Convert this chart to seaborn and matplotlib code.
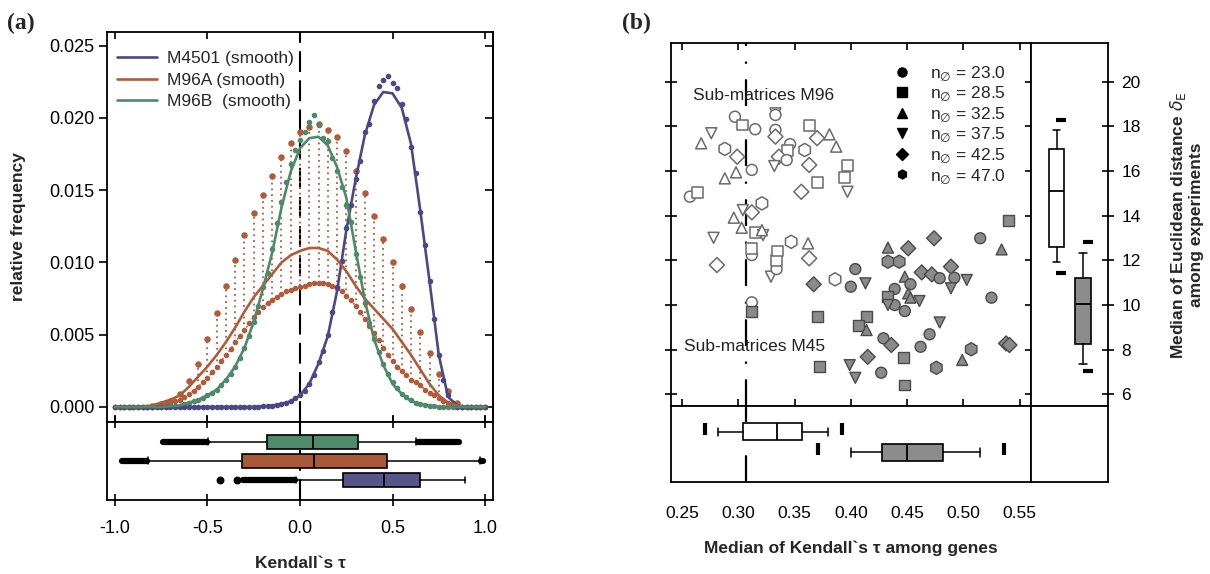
import numpy as np
import pandas as pd
import matplotlib
matplotlib.use("Agg")
import matplotlib.pyplot as plt
from matplotlib.lines import Line2D
from matplotlib.ticker import FormatStrFormatter
import seaborn as sns

# ---------------- Panel (a): distributions of Kendall's tau ----------------
tau_smooth = np.round(np.linspace(-1.0, 1.0, 41), 3)   # 0.05 grid
tau_raw = np.round(np.linspace(-1.0, 1.0, 81), 4)      # 0.025 grid

m4501_smooth = [0.0] * 16 + [
    0.00005, 0.0001, 0.0002, 0.0004, 0.0008, 0.0016, 0.0030, 0.0049, 0.0080, 0.0122, 0.0157,
    0.0188, 0.0209, 0.0218, 0.0217, 0.0207, 0.0182, 0.0136, 0.0087, 0.0036, 0.0007, 0.0001] + [0.0] * 3
m96a_smooth = [0.0] * 4 + [
    0.0001, 0.0003, 0.0005, 0.0008, 0.0014, 0.0021, 0.0028, 0.0036, 0.0045, 0.0055, 0.0066, 0.0076,
    0.0084, 0.0092, 0.0100, 0.0105, 0.0108, 0.0110, 0.0110, 0.0108, 0.0102, 0.0094, 0.0084, 0.0075,
    0.0068, 0.0061, 0.0054, 0.0045, 0.0036, 0.0026, 0.0016, 0.0008, 0.0003, 0.0001] + [0.0] * 3
m96b_smooth = [0.0] * 6 + [
    0.00005, 0.0001, 0.0003, 0.0005, 0.0008, 0.0012, 0.0019, 0.0028, 0.0041, 0.0059, 0.0082, 0.0107,
    0.0138, 0.0163, 0.0179, 0.0186, 0.0187, 0.0181, 0.0166, 0.0145, 0.0109, 0.0074, 0.0047, 0.0029,
    0.0016, 0.0009, 0.0004, 0.0002, 0.0001] + [0.0] * 6

m4501_raw = [0.0] * 31 + [
    0.00003, 0.00005, 0.00007, 0.0001, 0.00015, 0.0002, 0.0003, 0.0004, 0.0006, 0.0008, 0.0011,
    0.0016, 0.0022, 0.0031, 0.0039, 0.0050, 0.0066, 0.0083, 0.0101, 0.0124, 0.0140, 0.0158, 0.0170,
    0.0190, 0.0196, 0.0212, 0.0222, 0.0226, 0.0229, 0.0224, 0.0221, 0.0210, 0.0199, 0.0180, 0.0162,
    0.0135, 0.0112, 0.0087, 0.0061, 0.0036, 0.0019, 0.0008, 0.0002] + [0.0] * 7
m96b_raw = [0.0] * 11 + [
    0.00003, 0.00005, 0.00008, 0.0001, 0.0002, 0.0003, 0.0004, 0.0005, 0.0006, 0.0008, 0.0010, 0.0012,
    0.0015, 0.0019, 0.0023, 0.0028, 0.0034, 0.0041, 0.0049, 0.0059, 0.0070, 0.0083, 0.0093, 0.0109,
    0.0127, 0.0142, 0.0156, 0.0168, 0.0178, 0.0185, 0.0190, 0.0197, 0.0202, 0.0195, 0.0186, 0.0184,
    0.0172, 0.0163, 0.0152, 0.0140, 0.0128, 0.0106, 0.0090, 0.0072, 0.0058, 0.0047, 0.0038, 0.0030,
    0.0023, 0.0017, 0.0013, 0.0009, 0.0007, 0.0005, 0.0003, 0.0002, 0.00015, 0.0001, 0.00005] + [0.0] * 11
m96a_raw_low = [0.0] * 9 + [
    0.00005, 0.0001, 0.0002, 0.0003, 0.0004, 0.0005, 0.0007, 0.0009, 0.0011, 0.0014, 0.0017, 0.0020,
    0.0024, 0.0028, 0.0032, 0.0036, 0.0040, 0.0045, 0.0049, 0.0053, 0.0058, 0.0062, 0.0066, 0.0069,
    0.0072, 0.0074, 0.0076, 0.0078, 0.0080, 0.0081, 0.0082, 0.0083, 0.0084, 0.0085, 0.0086, 0.0086,
    0.0086, 0.0085, 0.0084, 0.0082, 0.0080, 0.0077, 0.0074, 0.0070, 0.0066, 0.0061, 0.0056, 0.0051,
    0.0046, 0.0041, 0.0036, 0.0032, 0.0028, 0.0025, 0.0022, 0.0019, 0.0017, 0.0015, 0.0012, 0.0010,
    0.0008, 0.0006, 0.0004, 0.0003, 0.0001, 0.00005] + [0.0] * 6
m96a_raw_spike = [0.0] * 4 + [
    0.0001, 0.0002, 0.0004, 0.0009, 0.0018, 0.0030, 0.0047, 0.0065, 0.0084, 0.0102, 0.0119, 0.0134,
    0.0147, 0.0160, 0.0173, 0.0183, 0.0190, 0.0194, 0.0196, 0.0192, 0.0187, 0.0177, 0.0163, 0.0148,
    0.0132, 0.0116, 0.0100, 0.0084, 0.0068, 0.0052, 0.0037, 0.0023, 0.0011, 0.0003] + [0.0] * 3

series_names = ["M4501 (smooth)", "M96A (smooth)", "M96B  (smooth)"]
col_purple, col_orange, col_green = "#4a4886", "#b05c3b", "#4d8a69"

# box statistics (rows: M96B, M96A, M4501)
box_a_whislo = [-0.495, -0.823, -0.02]
box_a_q1 = [-0.18, -0.315, 0.234]
box_a_med = [0.072, 0.077, 0.454]
box_a_q3 = [0.312, 0.468, 0.649]
box_a_whishi = [0.627, 0.973, 0.892]
box_a_band_low = [(-0.739, -0.505), (-0.964, -0.828), (-0.31, -0.025)]
box_a_band_high = [(0.635, 0.861), (0.976, 0.99), None]
box_a_fliers = [[], [], [-0.432, -0.339]]
box_a_colors = ["#4f8a6a", "#a9583a", "#565489"]

# ---------------- Panel (b): medians of sub-matrices ----------------
n_levels = [23.0, 28.5, 32.5, 37.5, 42.5, 47.0]
n_markers = {23.0: "o", 28.5: "s", 32.5: "^", 37.5: "v", 42.5: "D", 47.0: "h"}
n_sizes = {23.0: 62, 28.5: 62, 32.5: 62, 37.5: 62, 42.5: 58, 47.0: 90}

m96_tau = [0.297, 0.304, 0.315, 0.333, 0.333, 0.333, 0.333, 0.363, 0.370, 0.276, 0.267, 0.288, 0.299,
           0.346, 0.344, 0.336, 0.359, 0.343, 0.332, 0.363, 0.370, 0.356, 0.288, 0.298, 0.312, 0.257,
           0.264, 0.321, 0.296, 0.304, 0.312, 0.303, 0.315, 0.322, 0.278, 0.347, 0.362, 0.381, 0.387,
           0.397, 0.394, 0.397, 0.281, 0.329, 0.334, 0.334, 0.335, 0.312, 0.312, 0.363, 0.312, 0.386,
           0.321]
m96_dist = [18.43, 18.06, 17.87, 18.58, 18.51, 17.84, 17.54, 18.03, 17.47, 17.69, 17.24, 16.99, 16.64,
            17.20, 16.90, 16.64, 16.94, 16.49, 16.22, 16.27, 15.49, 15.07, 15.67, 15.94, 16.05, 14.85,
            15.03, 14.55, 13.91, 14.25, 14.15, 13.46, 13.24, 13.13, 13.01, 12.83, 12.76, 17.64, 17.09,
            16.24, 15.70, 15.07, 11.79, 11.27, 11.61, 12.01, 12.42, 12.24, 12.54, 12.09, 10.12, 11.15,
            13.35]
m96_n = [23.0, 28.5, 23.0, 37.5, 23.0, 23.0, 42.5, 28.5, 42.5, 37.5, 32.5, 47.0, 42.5,
         23.0, 28.5, 42.5, 47.0, 23.0, 37.5, 42.5, 28.5, 42.5, 32.5, 32.5, 23.0, 23.0,
         28.5, 47.0, 32.5, 37.5, 42.5, 32.5, 28.5, 37.5, 37.5, 47.0, 32.5, 32.5, 32.5,
         28.5, 28.5, 37.5, 42.5, 37.5, 23.0, 28.5, 28.5, 23.0, 28.5, 42.5, 23.0, 47.0,
         32.5]

m45_tau = [0.312, 0.367, 0.370, 0.372, 0.433, 0.451, 0.433, 0.443, 0.474, 0.515, 0.404, 0.400, 0.413,
           0.448, 0.453, 0.463, 0.472, 0.479, 0.489, 0.492, 0.503, 0.489, 0.439, 0.451, 0.433, 0.439,
           0.433, 0.461, 0.453, 0.448, 0.414, 0.407, 0.414, 0.479, 0.470, 0.429, 0.436, 0.462, 0.507,
           0.447, 0.415, 0.499, 0.399, 0.404, 0.427, 0.476, 0.448, 0.540, 0.534, 0.525, 0.538, 0.541]
m45_dist = [9.70, 10.93, 9.48, 7.24, 12.57, 12.54, 11.94, 11.94, 12.99, 12.99, 11.61, 10.82, 10.97,
            11.27, 10.93, 11.46, 11.37, 11.20, 11.72, 11.22, 11.12, 10.75, 10.72, 10.52, 10.37, 10.00,
            10.00, 10.18, 10.33, 9.73, 9.48, 9.10, 8.88, 9.22, 8.69, 8.51, 8.21, 8.13, 8.02,
            7.64, 7.68, 7.54, 7.31, 6.74, 6.97, 7.19, 6.42, 13.78, 12.49, 10.33, 8.28, 8.21]
m45_n = [28.5, 42.5, 28.5, 28.5, 32.5, 42.5, 47.0, 47.0, 42.5, 23.0, 23.0, 23.0, 37.5,
         32.5, 23.0, 42.5, 42.5, 23.0, 42.5, 23.0, 37.5, 37.5, 23.0, 32.5, 28.5, 23.0,
         37.5, 37.5, 32.5, 23.0, 28.5, 28.5, 32.5, 37.5, 23.0, 23.0, 42.5, 23.0, 47.0,
         28.5, 42.5, 32.5, 37.5, 37.5, 23.0, 47.0, 28.5, 28.5, 32.5, 23.0, 42.5, 42.5]

median_tau_ref = 0.307
# box stats: [M96 (white), M45 (grey)]
tau_box_whislo = [0.282, 0.400]
tau_box_q1 = [0.304, 0.428]
tau_box_med = [0.334, 0.450]
tau_box_q3 = [0.357, 0.482]
tau_box_whishi = [0.380, 0.515]
tau_box_fliers = [[0.270, 0.392], [0.371, 0.536]]
dist_box_whislo = [11.94, 7.34]
dist_box_q1 = [12.61, 8.25]
dist_box_med = [15.12, 10.03]
dist_box_q3 = [16.97, 11.20]
dist_box_whishi = [17.84, 12.31]
dist_box_fliers = [[18.28, 11.42], [12.83, 7.06]]
box_b_colors = ["white", "#8c8c8c"]

# ---------------- style ----------------
sns.set_style("white")
plt.rcParams["font.family"] = ["Liberation Sans", "DejaVu Sans"]
plt.rcParams["axes.edgecolor"] = "black"
plt.rcParams["axes.linewidth"] = 1.3
plt.rcParams["xtick.color"] = "black"
plt.rcParams["ytick.color"] = "black"

W, H = 1210, 574
fig = plt.figure(figsize=(W / 100, H / 100), dpi=100)


def rect(l, t, r, b):
    return [l / W, 1 - b / H, (r - l) / W, (b - t) / H]


ax_a = fig.add_axes(rect(107, 32, 493, 421.7))
ax_ab = fig.add_axes(rect(107, 421.7, 493, 500))
ax_b = fig.add_axes(rect(670.8, 43, 1031.3, 406))
ax_br = fig.add_axes(rect(1031.3, 43, 1108.4, 406))
ax_bb = fig.add_axes(rect(670.8, 406, 1031.3, 482))
ax_bc = fig.add_axes(rect(1031.3, 406, 1108.4, 482))

TICKFS_A = 13
TICKFS_B = 12.5

# ================= Panel (a) main =================
spike = np.asarray(m96a_raw_spike)
low_at_spike = np.asarray(m96a_raw_low)[::2]
mask = spike > 0
ax_a.vlines(tau_smooth[mask], low_at_spike[mask], spike[mask], colors=col_orange,
            linestyles=(0, (1, 2.2)), linewidth=1.3, zorder=2)
ax_a.plot(tau_raw, m96a_raw_low, color=col_orange, ls=(0, (1, 2)), lw=1.2, zorder=2)
sns.scatterplot(x=tau_raw, y=m96a_raw_low, color=col_orange, s=16, linewidth=0, ax=ax_a, zorder=3)
sns.scatterplot(x=tau_smooth[mask], y=spike[mask], color=col_orange, s=22, linewidth=0, ax=ax_a, zorder=3)
sns.scatterplot(x=tau_raw, y=m96b_raw, color=col_green, s=16, linewidth=0, ax=ax_a, zorder=3)
sns.scatterplot(x=tau_raw, y=m4501_raw, color=col_purple, s=16, linewidth=0, ax=ax_a, zorder=3)

df_smooth = pd.DataFrame({
    "tau": np.concatenate([tau_smooth] * 3),
    "freq": m4501_smooth + m96a_smooth + m96b_smooth,
    "series": np.repeat(series_names, len(tau_smooth)),
})
palette = dict(zip(series_names, [col_purple, col_orange, col_green]))
sns.lineplot(data=df_smooth, x="tau", y="freq", hue="series", palette=palette,
             linewidth=1.9, ax=ax_a, legend=False, zorder=4)
ax_a.axvline(0, color="black", lw=1.5, ls=(0, (10, 4)), zorder=1)

ax_a.set_xlim(-1.043, 1.043)
ax_a.set_ylim(-0.00102, 0.02595)
ax_a.set_yticks(np.arange(0, 0.0251, 0.005))
ax_a.yaxis.set_major_formatter(FormatStrFormatter("%.3f"))
ax_a.set_xticks([-1, -0.5, 0, 0.5, 1])
ax_a.tick_params(axis="x", direction="in", top=True, bottom=True, labelbottom=False, length=5, width=1.2)
ax_a.tick_params(axis="y", direction="out", left=True, right=False, labelsize=TICKFS_A, length=6,
                 width=1.2, pad=3)
sec = ax_a.secondary_yaxis("right")
sec.set_yticks(np.arange(0, 0.0251, 0.005))
sec.tick_params(direction="in", length=6, width=1.2, labelright=False)
ax_a.set_xlabel("")
ax_a.set_ylabel("")

handles_a = [Line2D([], [], color=palette[s], lw=1.9) for s in series_names]
ax_a.legend(handles_a, series_names, loc="upper left", bbox_to_anchor=(0.026, 0.952), frameon=False,
            fontsize=12.5, handlelength=2.3, handletextpad=0.55, labelspacing=0.38, borderpad=0,
            borderaxespad=0)

# ================= Panel (a) boxes =================
stats_a = [dict(whislo=box_a_whislo[i], q1=box_a_q1[i], med=box_a_med[i], q3=box_a_q3[i],
                whishi=box_a_whishi[i], fliers=[]) for i in range(3)]
bp = ax_ab.bxp(stats_a, positions=[1, 2, 3], widths=0.72, vert=False, patch_artist=True,
               showfliers=False,
               boxprops=dict(linewidth=1.2, edgecolor="black"),
               medianprops=dict(color="black", linewidth=1.3),
               whiskerprops=dict(linewidth=1.1), capprops=dict(linewidth=1.1))
for patch, c in zip(bp["boxes"], box_a_colors):
    patch.set_facecolor(c)
for i in range(3):
    for band in (box_a_band_low[i], box_a_band_high[i]):
        if band is not None:
            ax_ab.hlines(i + 1, band[0], band[1], colors="black", linewidth=4.5, capstyle="round")
    if box_a_fliers[i]:
        ax_ab.scatter(box_a_fliers[i], [i + 1] * len(box_a_fliers[i]), s=22, color="black", zorder=3)
ax_ab.axvline(0, color="black", lw=1.5, ls=(0, (10, 4)), zorder=0)
ax_ab.set_xlim(-1.043, 1.043)
ax_ab.set_ylim(4.05, -0.05)
ax_ab.set_yticks([])
ax_ab.set_xticks([-1, -0.5, 0, 0.5, 1])
ax_ab.set_xticklabels(["-1.0", "-0.5", "0.0", "0.5", "1.0"])
ax_ab.tick_params(axis="x", direction="inout", top=True, bottom=True, length=9, width=1.2,
                  labelsize=TICKFS_A, pad=10)

fig.text(300 / W, 1 - 563 / H, "Kendall`s \u03c4", ha="center", va="center", fontsize=12.5,
         fontweight="bold")
fig.text(19 / W, 1 - 227 / H, "relative frequency", ha="center", va="center", rotation=90,
         fontsize=12.5, fontweight="bold")
fig.text(7 / W, 1 - 23 / H, "(a)", ha="left", va="center", fontsize=17, fontweight="bold",
         family=["Liberation Serif", "DejaVu Serif"])
fig.text(622 / W, 1 - 23 / H, "(b)", ha="left", va="center", fontsize=17, fontweight="bold",
         family=["Liberation Serif", "DejaVu Serif"])

# ================= Panel (b) scatter =================
df96 = pd.DataFrame({"tau": m96_tau, "dist": m96_dist, "n": m96_n})
df45 = pd.DataFrame({"tau": m45_tau, "dist": m45_dist, "n": m45_n})
ax_b.axvline(median_tau_ref, color="black", lw=1.6, ls=(0, (12, 7, 1, 7)), zorder=1)
sns.scatterplot(data=df96, x="tau", y="dist", style="n", style_order=n_levels, markers=n_markers,
                size="n", sizes=n_sizes, size_order=n_levels,
                color="white", edgecolor="#6a6a6a", linewidth=1.1, ax=ax_b, legend=False, zorder=3)
sns.scatterplot(data=df45, x="tau", y="dist", style="n", style_order=n_levels, markers=n_markers,
                size="n", sizes=n_sizes, size_order=n_levels,
                color="#8a8a8a", edgecolor="#4a4a4a", linewidth=1.0, ax=ax_b, legend=False, zorder=3)
ax_b.set_xlim(0.240, 0.5604)
ax_b.set_ylim(5.48, 21.73)
ax_b.set_xticks(np.arange(0.25, 0.551, 0.05))
ax_b.set_yticks(np.arange(6, 20.1, 2))
ax_b.tick_params(axis="x", direction="in", top=True, bottom=True, labelbottom=False, length=5, width=1.2)
ax_b.tick_params(axis="y", direction="inout", left=True, right=True, labelleft=False, length=9, width=1.2)
ax_b.set_xlabel("")
ax_b.set_ylabel("")
ax_b.text(0.2597, 19.40, "Sub-matrices M96", ha="left", va="center", fontsize=12.5, color="#222222")
ax_b.text(0.2520, 8.16, "Sub-matrices M45", ha="left", va="center", fontsize=12.5, color="#222222")

handles_b = [Line2D([], [], marker=n_markers[n], color="black", ls="none", ms=6.5) for n in n_levels]
labels_b = [r"n$_{\emptyset}$ = %.1f" % n for n in n_levels]
ax_b.legend(handles_b, labels_b, loc="upper left", bbox_to_anchor=(0.617, 0.941), frameon=False,
            fontsize=12.5, handlelength=1.0, handletextpad=1.1, labelspacing=0.13, borderpad=0,
            borderaxespad=0)

# right: distance boxes
stats_r = [dict(whislo=dist_box_whislo[i], q1=dist_box_q1[i], med=dist_box_med[i], q3=dist_box_q3[i],
                whishi=dist_box_whishi[i], fliers=[]) for i in range(2)]
bpr = ax_br.bxp(stats_r, positions=[1, 2], widths=0.6, vert=True, patch_artist=True, showfliers=False,
                boxprops=dict(linewidth=1.2, edgecolor="black"),
                medianprops=dict(color="black", linewidth=1.3),
                whiskerprops=dict(linewidth=1.1), capprops=dict(linewidth=1.1))
for patch, c in zip(bpr["boxes"], box_b_colors):
    patch.set_facecolor(c)
for i in range(2):
    ax_br.plot([i + 1.18] * len(dist_box_fliers[i]), dist_box_fliers[i], ls="none", marker="_",
               ms=7, mew=3, color="black")
ax_br.set_xlim(0.042, 2.973)
ax_br.set_ylim(5.48, 21.73)
ax_br.set_xticks([])
ax_br.set_yticks(np.arange(6, 20.1, 2))
ax_br.set_yticklabels([str(v) for v in range(6, 21, 2)])
ax_br.yaxis.tick_right()
ax_br.tick_params(axis="y", direction="inout", length=9, width=1.2, labelsize=TICKFS_B, pad=5)

# bottom: tau boxes
stats_t = [dict(whislo=tau_box_whislo[i], q1=tau_box_q1[i], med=tau_box_med[i], q3=tau_box_q3[i],
                whishi=tau_box_whishi[i], fliers=[]) for i in range(2)]
bpt = ax_bb.bxp(stats_t, positions=[1, 2], widths=0.82, vert=False, patch_artist=True, showfliers=False,
                boxprops=dict(linewidth=1.2, edgecolor="black"),
                medianprops=dict(color="black", linewidth=1.3),
                whiskerprops=dict(linewidth=1.1), capprops=dict(linewidth=1.1))
for patch, c in zip(bpt["boxes"], box_b_colors):
    patch.set_facecolor(c)
for i in range(2):
    ax_bb.plot(tau_box_fliers[i], [i + 0.85] * len(tau_box_fliers[i]), ls="none", marker="|",
               ms=8, mew=3, color="black")
ax_bb.axvline(median_tau_ref, color="black", lw=1.6, ls=(0, (12, 7, 1, 7)), zorder=0)
ax_bb.set_xlim(0.240, 0.5604)
ax_bb.set_ylim(3.44, -0.25)
ax_bb.set_yticks([])
ax_bb.set_xticks(np.arange(0.25, 0.551, 0.05))
ax_bb.set_xticklabels(["%.2f" % v for v in np.arange(0.25, 0.551, 0.05)])
ax_bb.tick_params(axis="x", direction="in", length=5, width=1.2, labelsize=TICKFS_B, pad=17)

ax_bc.set_xticks([])
ax_bc.set_yticks([])

fig.text(851 / W, 1 - 548 / H, "Median of Kendall`s \u03c4 among genes", ha="center", va="center",
         fontsize=12.5, fontweight="bold")
fig.text(1186 / W, 1 - 225 / H, "Median of Euclidean distance $\\delta_{\\mathrm{E}}$\namong experiments",
         ha="center", va="center", rotation=90, fontsize=12.5, fontweight="bold",
         multialignment="center", linespacing=1.15)

fig.savefig("out.png", dpi=100)
